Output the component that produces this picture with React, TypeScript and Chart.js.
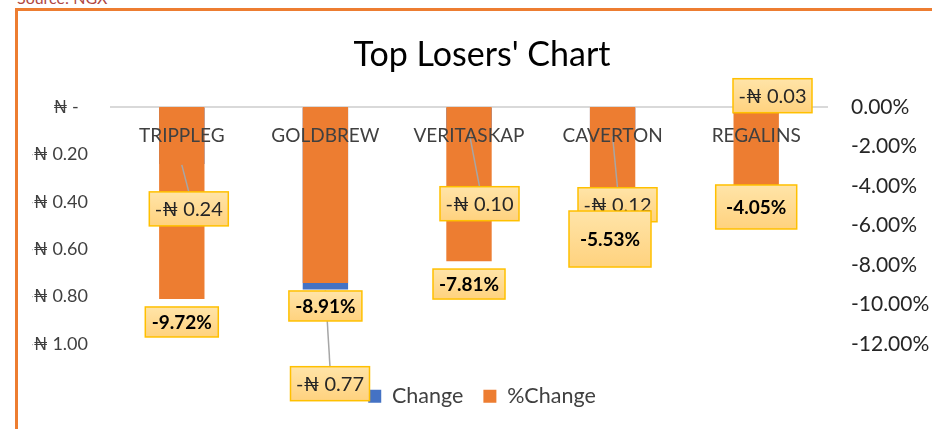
import React, { useEffect, useRef } from 'react';
import { Chart, registerables } from 'chart.js';

Chart.register(...registerables);

const categories = ['TRIPPLEG', 'GOLDBREW', 'VERITASKAP', 'CAVERTON', 'REGALINS'];
const changeValues = [-0.24, -0.77, -0.1, -0.12, -0.03];
const pctChangeValues = [-9.72, -8.91, -7.81, -5.53, -4.05];
const changeTickValues = [0, -0.2, -0.4, -0.6, -0.8, -1.0];
const pctTickValues = [0, -2, -4, -6, -8, -10, -12];

const FONT = 'Lato, "Noto Sans", "DejaVu Sans", sans-serif';

// label box placement relative to bar end (style only)
const changeBoxOffsets = [[7, 45], [4.6, 94.2], [10.5, 73], [4.9, 69.3], [16.3, -18.4]];
const changeBoxSizes = [[79, 34], [79, 34], [79, 34], [79, 34], [79, 34]];
const changeLeader = [true, true, true, true, false];
const pctBoxOffsets = [[0, 23], [0, 23], [0, 22.8], [-2.6, 22.8], [0, 20]];
const pctBoxSizes = [[73, 30], [73, 30], [72, 30], [82, 56], [81, 44]];

const fmtChange = (v: number) =>
  v === 0 ? '₦ -  ' : (v < 0 ? '-' : '') + '₦ ' + Math.abs(v).toFixed(2);
const fmtPct = (v: number) => v.toFixed(2) + '%';

function drawBox(ctx: CanvasRenderingContext2D, cx: number, cy: number, w: number, h: number) {
  const x = cx - w / 2;
  const y = cy - h / 2;
  const g = ctx.createLinearGradient(0, y, 0, y + h);
  g.addColorStop(0, '#FFE4A8');
  g.addColorStop(1, '#FFD27E');
  ctx.fillStyle = g;
  ctx.fillRect(x, y, w, h);
  ctx.strokeStyle = '#FFC000';
  ctx.lineWidth = 1.5;
  ctx.strokeRect(x, y, w, h);
}

const overlayPlugin = {
  id: 'overlay',
  afterDatasetsDraw(chart: any) {
    const ctx: CanvasRenderingContext2D = chart.ctx;
    const xScale = chart.scales.x;
    const zeroY = chart.scales.y.getPixelForValue(0);
    const metaC = chart.getDatasetMeta(0).data;
    const metaP = chart.getDatasetMeta(1).data;
    ctx.save();

    // leader lines
    ctx.strokeStyle = '#A6A6A6';
    ctx.lineWidth = 1.5;
    categories.forEach((_, i) => {
      if (!changeLeader[i]) return;
      const bar = metaC[i];
      const cx = bar.x + changeBoxOffsets[i][0];
      const top = bar.y + changeBoxOffsets[i][1] - changeBoxSizes[i][1] / 2;
      ctx.beginPath();
      ctx.moveTo(bar.x, bar.y + 1);
      ctx.lineTo(cx, top);
      ctx.stroke();
    });

    // category labels
    ctx.font = `19px ${FONT}`;
    ctx.fillStyle = '#404040';
    ctx.textAlign = 'center';
    ctx.textBaseline = 'middle';
    categories.forEach((c, i) => {
      ctx.fillText(c, xScale.getPixelForValue(i), zeroY + 29);
    });

    // change labels
    categories.forEach((_, i) => {
      const bar = metaC[i];
      const cx = bar.x + changeBoxOffsets[i][0];
      const cy = bar.y + changeBoxOffsets[i][1];
      drawBox(ctx, cx, cy, changeBoxSizes[i][0], changeBoxSizes[i][1]);
      ctx.font = `20px ${FONT}`;
      ctx.fillStyle = '#262626';
      ctx.textAlign = 'center';
      ctx.textBaseline = 'middle';
      ctx.fillText(fmtChange(changeValues[i]), cx, cy + 1);
    });

    // percent labels
    categories.forEach((_, i) => {
      const bar = metaP[i];
      const cx = bar.x + pctBoxOffsets[i][0];
      const cy = bar.y + pctBoxOffsets[i][1];
      drawBox(ctx, cx, cy, pctBoxSizes[i][0], pctBoxSizes[i][1]);
      ctx.font = `bold 19px ${FONT}`;
      ctx.fillStyle = '#000000';
      ctx.textAlign = 'center';
      ctx.textBaseline = 'middle';
      ctx.fillText(fmtPct(pctChangeValues[i]), cx, cy + 1);
    });

    ctx.restore();
  },
};

export default function App() {
  const ref = useRef<HTMLCanvasElement>(null);

  useEffect(() => {
    const chart = new Chart(ref.current as HTMLCanvasElement, {
      type: 'bar',
      data: {
        labels: categories,
        datasets: [
          {
            label: 'Change',
            data: changeValues,
            yAxisID: 'y',
            backgroundColor: '#4472C4',
            order: 2,
            grouped: false,
            barPercentage: 0.316,
            categoryPercentage: 1,
          } as any,
          {
            label: '%Change',
            data: pctChangeValues,
            yAxisID: 'y1',
            backgroundColor: '#ED7D31',
            order: 1,
            grouped: false,
            barPercentage: 0.316,
            categoryPercentage: 1,
          } as any,
        ],
      },
      options: {
        responsive: false,
        animation: false,
        devicePixelRatio: 1,
        layout: { padding: { left: 14, right: 0, top: 0, bottom: 12 } },
        plugins: {
          title: {
            display: true,
            text: "Top Losers' Chart",
            color: '#000000',
            font: { family: FONT, size: 34, weight: 'normal' },
            padding: { top: 23.5, bottom: 31.7 },
          },
          legend: {
            position: 'bottom',
            labels: {
              boxWidth: 13,
              boxHeight: 13,
              padding: 20,
              color: '#404040',
              font: { family: FONT, size: 21.5 },
              sort: (a: any, b: any) => a.datasetIndex - b.datasetIndex,
            },
          },
          tooltip: { enabled: false },
        },
        scales: {
          x: {
            display: true,
            grid: { display: false },
            border: { display: false },
            ticks: { display: false },
            afterFit: (s: any) => {
              s.height = 21.5;
            },
          },
          y: {
            position: 'left',
            min: -1,
            max: 0,
            afterBuildTicks: (s: any) => {
              s.ticks = changeTickValues.map((v) => ({ value: v }));
            },
            ticks: {
              padding: 22,
              color: '#404040',
              font: { family: FONT, size: 18 },
              callback: (v: any) => fmtChange(Number(v)),
            },
            grid: {
              drawTicks: false,
              lineWidth: 2,
              color: (c: any) => (c.tick && c.tick.value === 0 ? '#D9D9D9' : 'rgba(0,0,0,0)'),
            },
            border: { display: false },
            afterFit: (s: any) => {
              s.width = 78;
            },
          },
          y1: {
            position: 'right',
            min: -12,
            max: 0,
            afterBuildTicks: (s: any) => {
              s.ticks = pctTickValues.map((v) => ({ value: v }));
            },
            ticks: {
              padding: 23,
              color: '#262626',
              font: { family: FONT, size: 21 },
              callback: (v: any) => fmtPct(Number(v)),
            },
            grid: { display: false, drawTicks: false },
            border: { display: false },
            afterFit: (s: any) => {
              s.width = 104;
            },
          },
        },
      } as any,
      plugins: [overlayPlugin],
    });
    return () => chart.destroy();
  }, []);

  return (
    <div
      style={{
        position: 'absolute',
        left: 0,
        top: 0,
        width: 932,
        height: 429,
        overflow: 'hidden',
        background: '#ffffff',
      }}
    >
      <div
        style={{
          position: 'absolute',
          left: 17,
          top: -12,
          fontFamily: FONT,
          fontSize: 16,
          color: '#B0463F',
          whiteSpace: 'nowrap',
        }}
      >
        Source: NGX
      </div>
      <div
        style={{
          position: 'absolute',
          left: 15,
          top: 8,
          width: 1000,
          height: 1000,
          borderTop: '3px solid #ED7D31',
          borderLeft: '3px solid #ED7D31',
        }}
      />
      <canvas
        ref={ref}
        width={914}
        height={418}
        style={{ position: 'absolute', left: 18, top: 11, width: 914, height: 418 }}
      />
    </div>
  );
}
